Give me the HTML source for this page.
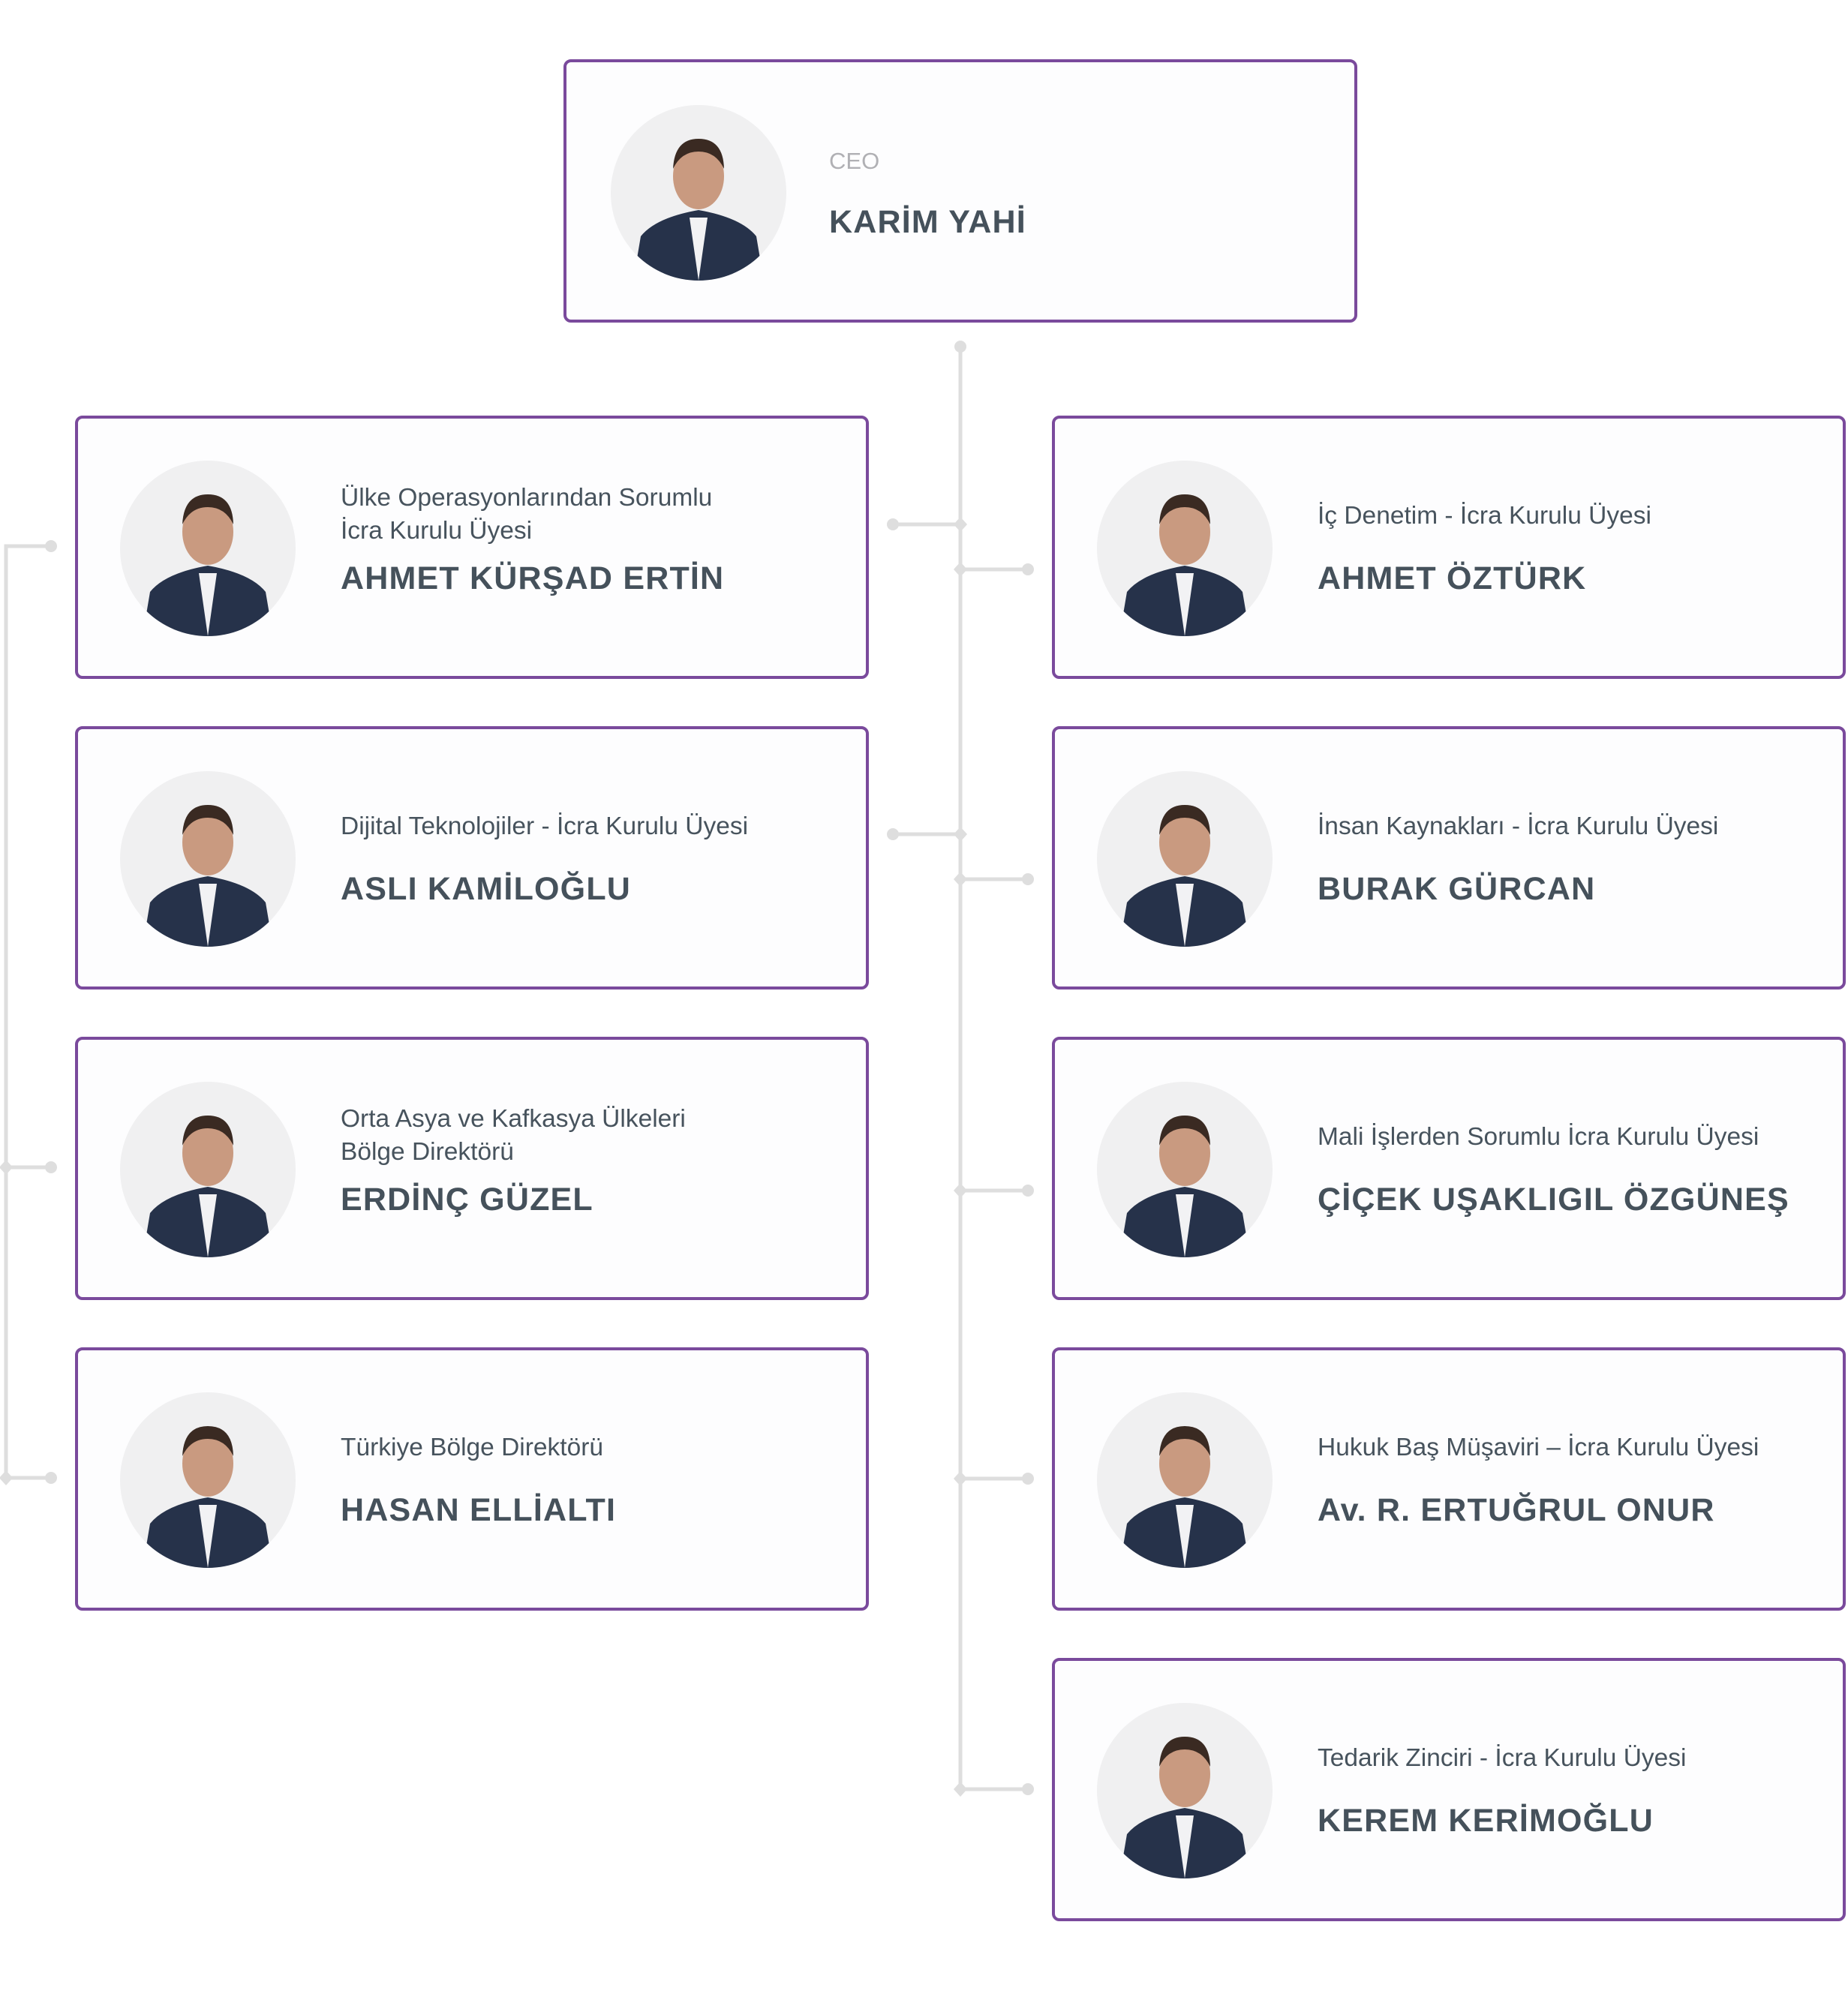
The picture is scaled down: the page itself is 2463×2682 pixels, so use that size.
<!DOCTYPE html>
<html><head><meta charset="utf-8">
<style>
html,body{margin:0;padding:0;background:#fff;}
body{width:2463px;height:2682px;position:relative;overflow:hidden;font-family:"Liberation Sans",sans-serif;}
.box{position:absolute;box-sizing:border-box;width:1058px;height:351px;border:4px solid #7a4a9c;border-radius:10px;background:#fdfdfe;}
.ph{position:absolute;left:56px;top:56px;width:234px;height:234px;}
.t{position:absolute;left:650px;color:#47535d;font-size:33.5px;line-height:44px;white-space:nowrap;}
.n{position:absolute;left:650px;top:188px;color:#45515b;font-size:43px;font-weight:bold;line-height:50px;white-space:nowrap;letter-spacing:1.2px;}
</style></head><body>
<svg width="2463" height="2682" style="position:absolute;left:0;top:0">
<g stroke="#dedede" stroke-width="5" fill="none">
<line x1="1280" y1="462" x2="1280" y2="2385"/>
<line x1="1190" y1="699" x2="1280" y2="699"/>
<line x1="1190" y1="1112" x2="1280" y2="1112"/>
<line x1="1280" y1="759" x2="1370" y2="759"/>
<line x1="1280" y1="1172" x2="1370" y2="1172"/>
<line x1="1280" y1="1587" x2="1370" y2="1587"/>
<line x1="1280" y1="1971" x2="1370" y2="1971"/>
<line x1="1280" y1="2385" x2="1370" y2="2385"/>
<polyline points="68,728 8,728 8,1970 68,1970"/>
<line x1="8" y1="1556" x2="68" y2="1556"/>
</g>
<g fill="#dedede">
<circle cx="1280" cy="462" r="8"/>
<circle cx="1190" cy="699" r="8"/><circle cx="1190" cy="1112" r="8"/>
<circle cx="1370" cy="759" r="8"/><circle cx="1370" cy="1172" r="8"/><circle cx="1370" cy="1587" r="8"/><circle cx="1370" cy="1971" r="8"/><circle cx="1370" cy="2385" r="8"/>
<circle cx="68" cy="728" r="8"/><circle cx="68" cy="1556" r="8"/><circle cx="68" cy="1970" r="8"/>
<path d="M1280 689l9 10-9 10-9-10z"/><path d="M1280 1102l9 10-9 10-9-10z"/>
<path d="M1280 749l9 10-9 10-9-10z"/><path d="M1280 1162l9 10-9 10-9-10z"/><path d="M1280 1577l9 10-9 10-9-10z"/><path d="M1280 1961l9 10-9 10-9-10z"/><path d="M1280 2375l9 10-9 10-9-10z"/>
<path d="M8 1546l9 10-9 10-9-10z"/><path d="M8 1960l9 10-9 10-9-10z"/>
</g>
<defs>
<symbol id="av" viewBox="0 0 234 234">
<clipPath id="cc"><circle cx="117" cy="117" r="117"/></clipPath>
<g clip-path="url(#cc)">
<rect width="234" height="234" fill="#f0f0f1"/>
<path d="M30 234 L40 175 Q60 150 117 140 Q174 150 194 175 L204 234Z" fill="#26324a"/>
<path d="M105 150 L117 234 L129 150Z" fill="#f2f2f4"/>
<ellipse cx="117" cy="95" rx="34" ry="44" fill="#c99a80"/>
<path d="M83 85 Q85 45 117 45 Q150 45 151 85 Q140 62 117 62 Q94 62 83 85Z" fill="#3a2a22"/>
</g>
</symbol>
</defs>
</svg>

<div class="box" style="left:751px;top:79px;width:1058px;height:351px;">
<svg class="ph" style="left:59px;top:57px"><use href="#av"/></svg>
<div class="t" style="left:350px;top:110px;color:#b0b0b4;font-size:31px;">CEO</div>
<div class="n" style="left:350px;top:188px;">KARİM YAHİ</div>
</div>

<div class="box" style="left:100px;top:554px;">
<svg class="ph"><use href="#av"/></svg>
<div class="t" style="left:350px;top:84px;">Ülke Operasyonlarından Sorumlu<br>İcra Kurulu Üyesi</div>
<div class="n" style="left:350px;">AHMET KÜRŞAD ERTİN</div>
</div>
<div class="box" style="left:100px;top:968px;">
<svg class="ph"><use href="#av"/></svg>
<div class="t" style="left:350px;top:108px;">Dijital Teknolojiler - İcra Kurulu Üyesi</div>
<div class="n" style="left:350px;">ASLI KAMİLOĞLU</div>
</div>
<div class="box" style="left:100px;top:1382px;">
<svg class="ph"><use href="#av"/></svg>
<div class="t" style="left:350px;top:84px;">Orta Asya ve Kafkasya Ülkeleri<br>Bölge Direktörü</div>
<div class="n" style="left:350px;">ERDİNÇ GÜZEL</div>
</div>
<div class="box" style="left:100px;top:1796px;">
<svg class="ph"><use href="#av"/></svg>
<div class="t" style="left:350px;top:108px;">Türkiye Bölge Direktörü</div>
<div class="n" style="left:350px;">HASAN ELLİALTI</div>
</div>

<div class="box" style="left:1402px;top:554px;">
<svg class="ph"><use href="#av"/></svg>
<div class="t" style="left:350px;top:108px;">İç Denetim - İcra Kurulu Üyesi</div>
<div class="n" style="left:350px;">AHMET ÖZTÜRK</div>
</div>
<div class="box" style="left:1402px;top:968px;">
<svg class="ph"><use href="#av"/></svg>
<div class="t" style="left:350px;top:108px;">İnsan Kaynakları - İcra Kurulu Üyesi</div>
<div class="n" style="left:350px;">BURAK GÜRCAN</div>
</div>
<div class="box" style="left:1402px;top:1382px;">
<svg class="ph"><use href="#av"/></svg>
<div class="t" style="left:350px;top:108px;">Mali İşlerden Sorumlu İcra Kurulu Üyesi</div>
<div class="n" style="left:350px;">ÇİÇEK UŞAKLIGIL ÖZGÜNEŞ</div>
</div>
<div class="box" style="left:1402px;top:1796px;">
<svg class="ph"><use href="#av"/></svg>
<div class="t" style="left:350px;top:108px;">Hukuk Baş Müşaviri – İcra Kurulu Üyesi</div>
<div class="n" style="left:350px;">Av. R. ERTUĞRUL ONUR</div>
</div>
<div class="box" style="left:1402px;top:2210px;">
<svg class="ph"><use href="#av"/></svg>
<div class="t" style="left:350px;top:108px;">Tedarik Zinciri - İcra Kurulu Üyesi</div>
<div class="n" style="left:350px;">KEREM KERİMOĞLU</div>
</div>
</body></html>
